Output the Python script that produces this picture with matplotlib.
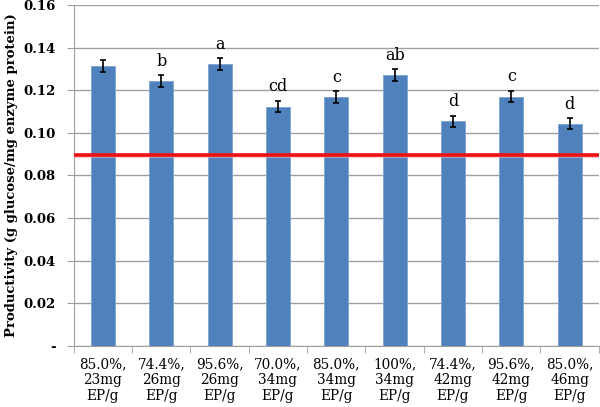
import matplotlib
matplotlib.use("Agg")
import matplotlib.pyplot as plt
import numpy as np

categories = ["85.0%,\n23mg\nEP/g", "74.4%,\n26mg\nEP/g", "95.6%,\n26mg\nEP/g",
              "70.0%,\n34mg\nEP/g", "85.0%,\n34mg\nEP/g", "100%,\n34mg\nEP/g",
              "74.4%,\n42mg\nEP/g", "95.6%,\n42mg\nEP/g", "85.0%,\n46mg\nEP/g"]
values = [0.1314, 0.1241, 0.1322, 0.1123, 0.1167, 0.1272, 0.1053, 0.1170, 0.1043]
errors = [0.0027, 0.0028, 0.0027, 0.0027, 0.0027, 0.0027, 0.0027, 0.0027, 0.0027]
letters = ["", "b", "a", "cd", "c", "ab", "d", "c", "d"]
reference_value = 0.0897
yticks = [0, 0.02, 0.04, 0.06, 0.08, 0.10, 0.12, 0.14, 0.16]
yticklabels = ["-", "0.02", "0.04", "0.06", "0.08", "0.10", "0.12", "0.14", "0.16"]

plt.rcParams['font.family'] = ['DejaVu Serif']
fig = plt.figure(figsize=(6, 4.07), dpi=100)
ax = fig.add_axes([0.123, 0.15, 0.875, 0.838])

x = np.arange(len(categories))
ax.bar(x, values, width=0.41, color="#4F81BD", edgecolor="#7FA3D3", linewidth=0.6, zorder=2)
ax.errorbar(x, values, yerr=errors, fmt="none", ecolor="black", elinewidth=1.2,
            capsize=2.4, capthick=1.2, zorder=3)
for xi, v, e, t in zip(x, values, errors, letters):
    if t:
        ax.text(xi, v + e + 0.0025, t, ha="center", va="bottom", fontsize=11.5, color="black")

ax.axhline(reference_value - 0.0006, color="#f0b0b0", linewidth=3, alpha=0.6, zorder=3)
ax.axhline(reference_value, color="#ee1111", linewidth=2.6, zorder=4)

ax.set_xlim(-0.5, len(categories) - 0.5)
ax.set_ylim(0, 0.16)
ax.set_yticks(yticks)
ax.set_yticklabels(yticklabels, fontweight="bold", fontsize=9.5)
ax.yaxis.grid(True, color="#a0a0a0", linewidth=1, zorder=0)
ax.set_axisbelow(True)

ax.set_xticks(x)
ax.set_xticklabels(categories, fontsize=9.8, linespacing=1.2)
ax.set_xticks(np.arange(len(categories) + 1) - 0.5, minor=True)
ax.tick_params(axis="x", which="major", length=0, pad=8)
ax.tick_params(axis="x", which="minor", length=5, color="#a0a0a0", direction="out")
ax.tick_params(axis="y", length=5, color="#a0a0a0", direction="out", pad=8)

for s in ["top", "right"]:
    ax.spines[s].set_visible(False)
ax.spines["left"].set_color("#a0a0a0")
ax.spines["bottom"].set_color("#a0a0a0")

ax.set_ylabel("Productivity (g glucose/mg enzyme protein)", fontweight="bold", fontsize=9.5, labelpad=4)

fig.savefig("out.png", dpi=100)
